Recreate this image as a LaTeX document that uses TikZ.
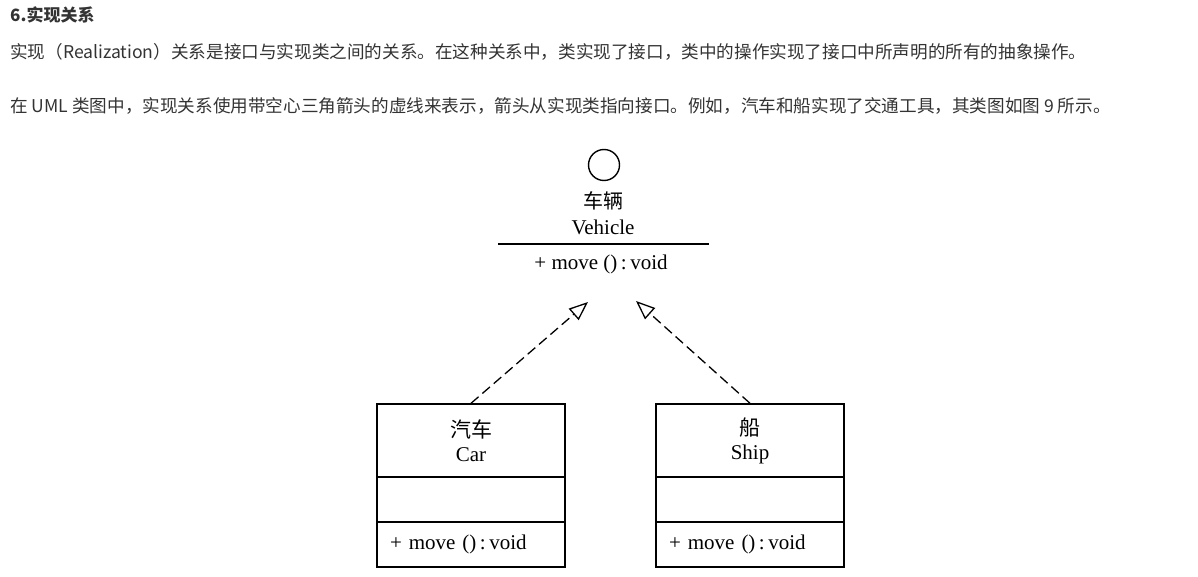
\documentclass[tikz,border=0pt]{standalone}
\usepackage{fontspec}
\setmainfont{Noto Sans CJK SC}
\newfontfamily\cjk{Noto Sans CJK SC}
\newfontfamily\umlserif{Liberation Serif}
\usetikzlibrary{arrows.meta}
\begin{document}
\begin{tikzpicture}[x=1pt,y=-1pt,
  txt/.style={anchor=west,inner sep=0pt,text=black!80,font=\fontsize{17.6}{20}\selectfont},
  uml/.style={inner sep=0pt,font=\umlserif\fontsize{21}{24}\selectfont},
  part/.style={draw,line width=1.4pt,minimum width=188pt,inner sep=0pt,font=\umlserif\fontsize{21}{24}\selectfont},
  real/.style={dash pattern=on 10pt off 5pt,line width=1.3pt,-{Triangle[open,length=19pt,width=15pt]}}]
  \useasboundingbox (0,0) rectangle (1198,577);

  % text above the diagram
  \node[txt,font=\bfseries\fontsize{17}{20}\selectfont] (h) at (10,15) {6.实现关系};
  \node[txt] (p1) at (10,52) {实现（Realization）关系是接口与实现类之间的关系。在这种关系中，类实现了接口，类中的操作实现了接口中所声明的所有的抽象操作。};
  \node[txt] (p2) at (10,106) {在 UML 类图中，实现关系使用带空心三角箭头的虚线来表示，箭头从实现类指向接口。例如，汽车和船实现了交通工具，其类图如图 9 所示。};

  % interface
  \node[draw,circle,minimum size=31pt,line width=1.4pt,inner sep=0pt] (0) at (604,165) {};
  \node[uml,font=\cjk\fontsize{20}{22}\selectfont] (1) at (603,201) {车辆};
  \node[uml] (2) at (603,227) {Vehicle};
  \draw[line width=1.4pt] (498,244) -- (709,244);
  \node[uml] (3) at (601,264) {+ move ()\,:\,void};

  % classes
  \node[part,minimum height=73pt,align=center] (4) at (471,440.5) {{\cjk 汽车}\\Car};
  \node[part,minimum height=45pt] (5) at (471,499.5) {};
  \node[part,minimum height=45pt,text width=162pt,inner xsep=13pt,align=left] (6) at (471,544.5) {+ move ()\,:\,void};

  \node[part,minimum height=73pt,align=center] (7) at (750,440.5) {{\cjk 船}\\Ship};
  \node[part,minimum height=45pt] (8) at (750,499.5) {};
  \node[part,minimum height=45pt,text width=162pt,inner xsep=13pt,align=left] (9) at (750,544.5) {+ move ()\,:\,void};

  \coordinate (t1) at (588,302);
  \coordinate (t2) at (636,301);
  \draw[real] (4.north) -- (t1);
  \draw[real] (7.north) -- (t2);
\end{tikzpicture}
\end{document}
